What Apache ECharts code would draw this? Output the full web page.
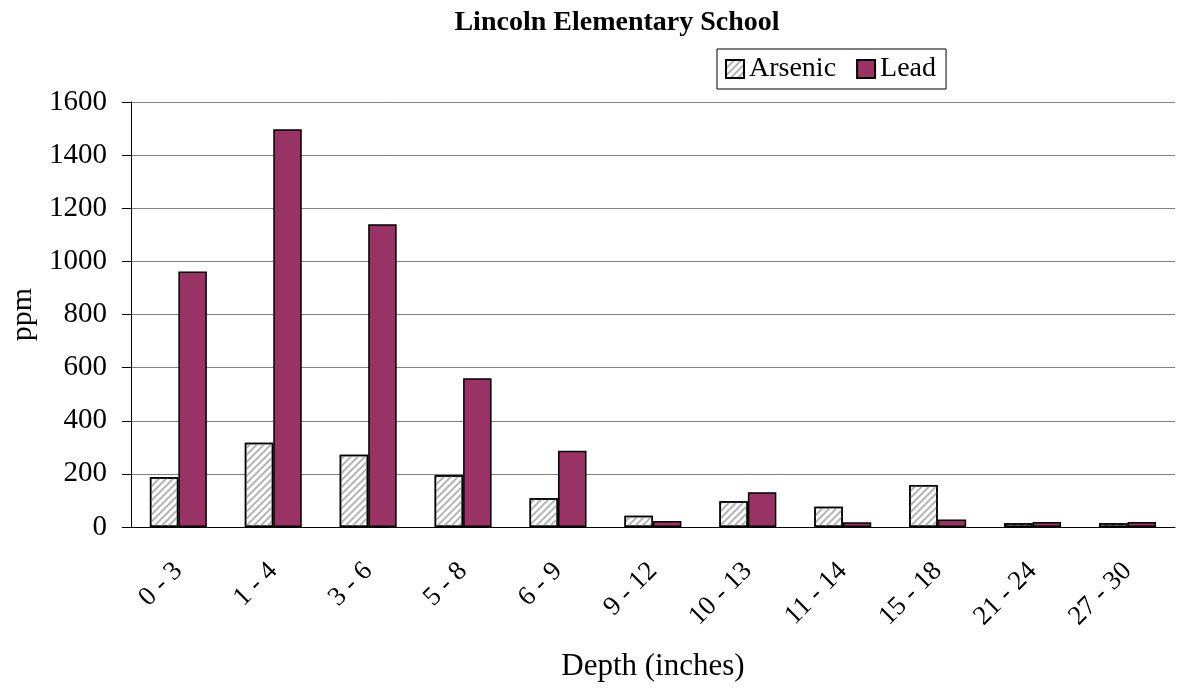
<!DOCTYPE html>
<html><head><meta charset="utf-8">
<script src="https://cdn.jsdelivr.net/npm/echarts@6/dist/echarts.min.js"></script>
<style>html,body{margin:0;padding:0;background:#fff}#c{width:1204px;height:690px}</style>
</head><body><div id="c"></div>
<script>
const categories = ['0 - 3','1 - 4','3 - 6','5 - 8','6 - 9','9 - 12','10 - 13','11 - 14','15 - 18','21 - 24','27 - 30'];
const arsenic = [187, 317, 272, 195, 108, 42, 97, 76, 158, 14, 14];
const lead = [962, 1497, 1140, 560, 287, 23, 131, 18, 28, 19, 19];
const yTicks = [0, 200, 400, 600, 800, 1000, 1200, 1400, 1600];

const font = '"Liberation Serif", "Times New Roman", serif';
const chart = echarts.init(document.getElementById('c'));
chart.setOption({
  animation: false,
  backgroundColor: '#fff',
  title: { text: 'Lincoln Elementary School', left: 612, top: 4, textAlign: 'center',
    textStyle: { fontFamily: font, fontWeight: 'bold', fontSize: 28, color: '#000' } },
  legend: { left: 717, top: 49, icon: 'rect', itemWidth: 18, itemHeight: 18, itemGap: 20,
    padding: [4, 10, 4, 8], borderColor: '#000', borderWidth: 1, backgroundColor: '#fff', borderRadius: 0,
    textStyle: { fontFamily: font, fontSize: 28, lineHeight: 32, color: '#000', padding: [0, 0, 0, 0] },
    data: ['Arsenic', 'Lead'] },
  grid: { left: 125, right: 29, top: 102, bottom: 163 },
  xAxis: { type: 'category', data: categories,
    name: 'Depth (inches)', nameLocation: 'middle', nameGap: 124,
    nameTextStyle: { fontFamily: font, fontSize: 31, color: '#000' },
    axisLine: { lineStyle: { color: '#000', width: 1 } },
    axisTick: { length: 8, lineStyle: { color: '#000' } },
    axisLabel: { rotate: 45, fontFamily: font, fontSize: 27, color: '#000', margin: 40, interval: 0 } },
  yAxis: { type: 'value', min: 0, max: 1600, interval: 200,
    name: 'ppm', nameLocation: 'middle', nameGap: 87, nameRotate: 90,
    nameTextStyle: { fontFamily: font, fontSize: 30, color: '#000' },
    axisLine: { show: true, lineStyle: { color: '#000', width: 1 } },
    axisTick: { show: true, length: 9, lineStyle: { color: '#000' } },
    axisLabel: { fontFamily: font, fontSize: 29, color: '#000', margin: 24,
      formatter: v => yTicks.includes(v) ? String(v) : '' },
    splitLine: { lineStyle: { color: '#808080', width: 1 } } },
  series: [
    { name: 'Arsenic', type: 'bar', data: arsenic, barGap: '0%', barCategoryGap: '40%',
      itemStyle: { color: '#ffffff', borderColor: '#000', borderWidth: 1.5,
        decal: { symbol: 'rect', symbolSize: 1, color: '#b4b4b4', dashArrayX: [1, 0], dashArrayY: [2, 3], rotation: -Math.PI / 4 } } },
    { name: 'Lead', type: 'bar', data: lead,
      itemStyle: { color: '#993366', borderColor: '#000', borderWidth: 1.5 } }
  ]
});
</script></body></html>
